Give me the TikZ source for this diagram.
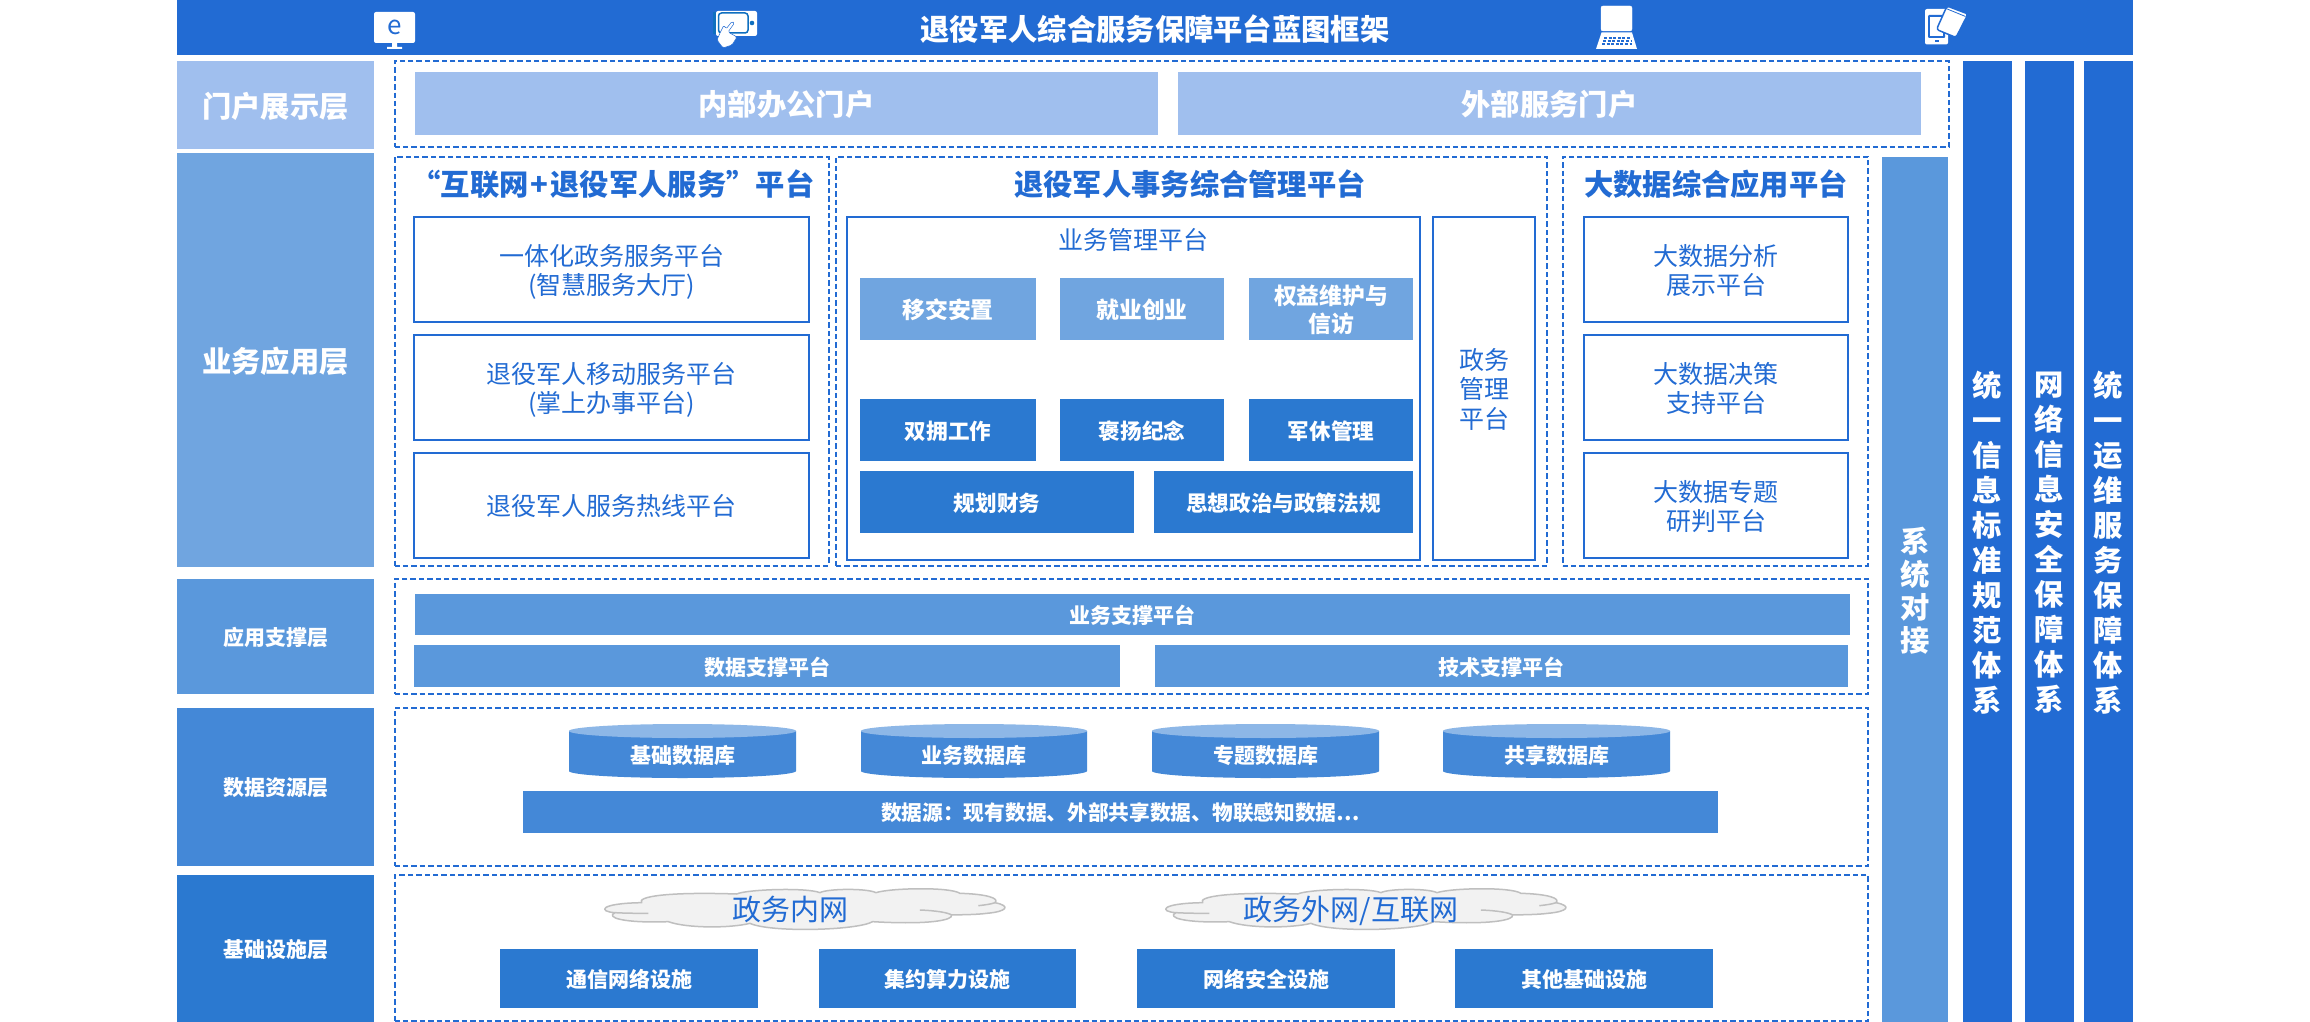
\documentclass[tikz,border=0pt]{standalone}
\usepackage{fontspec}
\setmainfont{Noto Sans CJK SC}
\definecolor{cTop}{HTML}{226BD3}
\definecolor{cPortal}{HTML}{A0BFEE}
\definecolor{cBiz}{HTML}{70A5E0}
\definecolor{cSup}{HTML}{5A98DC}
\definecolor{cData}{HTML}{4488D7}
\definecolor{cInfra}{HTML}{2B79D0}
\definecolor{cCylTop}{HTML}{8DB7E7}
\definecolor{cCloud}{HTML}{F2F2F2}
\definecolor{cCloudLine}{HTML}{BFBFBF}
\definecolor{cScreen}{HTML}{0F6FBF}
\newcommand\bx[7]{%
  \pgfmathsetmacro\bxw{#4-#2}\pgfmathsetmacro\bxh{#5-#3}%
  \pgfmathsetmacro\bxcx{(#4+#2)/2}\pgfmathsetmacro\bxcy{(#5+#3)/2}%
  \node[#6,minimum width=\bxw pt,minimum height=\bxh pt] (#1) at (\bxcx,\bxcy) {#7};}
\newcommand\cloudshape[1]{%
  \begin{scope}[shift={(#1,880)},x=0.3333pt,y=-0.3333pt]
    \draw[cCloudLine,fill=cCloud,line width=1.5pt,line join=round]
      (155,68) .. controls (140,50) and (230,35) .. (440,42)
      .. controls (470,28) and (650,22) .. (690,38)
      .. controls (710,26) and (830,24) .. (858,38)
      .. controls (900,24) and (1080,20) .. (1110,40)
      .. controls (1190,42) and (1230,55) .. (1215,68)
      .. controls (1265,78) and (1250,95) .. (1190,100)
      .. controls (1160,104) and (1120,104) .. (1085,105)
      .. controls (1090,120) and (1020,135) .. (848,125)
      .. controls (800,152) and (540,158) .. (480,130)
      .. controls (420,145) and (290,145) .. (235,125)
      .. controls (100,130) and (45,112) .. (75,98)
      .. controls (25,95) and (25,70) .. (155,68) -- cycle;
    \draw[cCloudLine,line width=1.5pt] (75,98) .. controls (110,100) and (150,100) .. (175,100);
    \draw[cCloudLine,line width=1.5pt] (1165,77) .. controls (1185,75) and (1205,72) .. (1215,68);
    \draw[cCloudLine,line width=1.5pt] (990,90) .. controls (1040,92) and (1075,98) .. (1085,105);
  \end{scope}}
\tikzset{
  base/.style={inner sep=0pt,outer sep=0pt,align=center,text depth=.04em},
  solidw/.style n args={3}{base,fill=#1,text=white,font=\fontsize{#2}{#3}\selectfont\bfseries},
  dashbox/.style={base,draw=cTop,line width=2pt,dash pattern=on 5.4pt off 3pt},
  linebox/.style={base,draw=cTop,line width=1.8pt,fill=white,text=cTop,font=\fontsize{25}{29.5}\selectfont},
  sectitle/.style={base,text=cTop,font=\fontsize{29.3}{34}\selectfont\bfseries},
  plain/.style={base,text=cTop,font=\fontsize{25}{30}\selectfont},
  cloudtext/.style={base,text=cTop,font=\fontsize{29}{32}\selectfont},
  vbar/.style={solidw={cTop}{29.3}{35}},
  cyltext/.style={base,text=white,font=\fontsize{21}{25}\selectfont\bfseries},
}
\begin{document}
\begin{tikzpicture}[x=1pt,y=-1pt]
\useasboundingbox[fill=white] (0,0) rectangle (2310,1022);
% top bar
\bx{topbar}{177}{0}{2133}{55}{solidw={cTop}{29.3}{34}}{退役军人综合服务保障平台蓝图框架}
% icons
\fill[white,rounded corners=2pt] (374,12) rectangle (415,43);
\fill[white] (392,43) rectangle (397,47) (387,47) rectangle (402,49);
\node[base,text=cTop,font=\fontsize{26}{26}\selectfont] (eicon) at (394.5,27) {e};
\fill[cScreen] (713,12) rectangle (716,34);
\fill[white,rounded corners=2pt] (716,11) rectangle (757,36);
\draw[cScreen,line width=1.5pt,rounded corners=3pt] (718.5,13) rectangle (748,33);
\fill[cScreen] (752,23) circle (2.3);
\fill[white,draw=cTop,line width=.5pt,rounded corners=1.5pt] (717,40) -- (723,48) -- (732,45) -- (737,37) -- (728,32) -- (734.5,23) -- (732,21.5) -- (726,29) -- (724,25) -- (720,33) -- cycle;
\fill[white,draw=white,rounded corners=2pt] (1601,6) rectangle (1632,31);
\fill[white] (1601.5,32.5) -- (1632,32.5) -- (1637,49) -- (1596,49) -- cycle;
\draw[cTop,line width=1.4pt,dash pattern=on 3pt off 1.6pt] (1604,38) -- (1630,38) (1603,41) -- (1631,41) (1602,44) -- (1632,44);
\fill[white,rounded corners=2pt] (1925,9) rectangle (1948,44.5);
\fill[cTop,rounded corners=1pt] (1928,15) rectangle (1945,38);
\fill[white] (1930,17) rectangle (1943,36);
\fill[cTop] (1935,40.5) rectangle (1938.5,41.7);
\draw[cTop,fill=white,line width=1.5pt,rounded corners=2.5pt,line join=round] (1947,6) -- (1968,14) -- (1956,37.5) -- (1936.5,29.5) -- cycle;
\draw[cTop,line width=.8pt] (1946,8.5) -- (1965.5,16.5);
% left column
\bx{portal}{177}{61}{374}{149}{solidw={cPortal}{29.3}{34}}{门户展示层}
\bx{biz}{177}{153}{374}{567}{solidw={cBiz}{29.3}{34}}{业务应用层}
\bx{sup}{177}{579}{374}{694}{solidw={cSup}{21}{25}}{应用支撑层}
\bx{data}{177}{708}{374}{866}{solidw={cData}{21}{25}}{数据资源层}
\bx{infra}{177}{875}{374}{1022}{solidw={cInfra}{21}{25}}{基础设施层}
% right columns
\bx{dock}{1882}{157}{1948}{1022}{solidw={cSup}{29.3}{33}}{系\\统\\对\\接}
\bx{stdA}{1963}{61}{2012}{1022}{vbar}{统\\一\\信\\息\\标\\准\\规\\范\\体\\系}
\bx{stdB}{2025}{61}{2074}{1022}{vbar}{网\\络\\信\\息\\安\\全\\保\\障\\体\\系}
\bx{stdC}{2084}{61}{2133}{1022}{vbar}{统\\一\\运\\维\\服\\务\\保\\障\\体\\系}
% portal layer
\bx{portalbox}{394.5}{61}{1948.5}{147}{dashbox}{}
\bx{inner}{415}{72}{1158}{135}{solidw={cPortal}{29.3}{34}}{内部办公门户}
\bx{outer}{1178}{72}{1921}{135}{solidw={cPortal}{29.3}{34}}{外部服务门户}
% business
\bx{biza}{394.5}{157}{828.5}{565.5}{dashbox}{}
\bx{bizb}{836}{157}{1547}{565.5}{dashbox}{}
\bx{bizc}{1562.5}{157}{1868}{565.5}{dashbox}{}
\node[sectitle] (ta) at (613,183) {“互联网\kern2pt+\kern2pt退役军人服务”平台};
\node[sectitle] (tb) at (1190,183) {退役军人事务综合管理平台};
\node[sectitle] (tc) at (1716,183) {大数据综合应用平台};
\bx{a1}{414}{217}{809}{322}{linebox}{一体化政务服务平台\\(智慧服务大厅)}
\bx{a2}{414}{335}{809}{440}{linebox}{退役军人移动服务平台\\(掌上办事平台)}
\bx{a3}{414}{453}{809}{558}{linebox}{退役军人服务热线平台}
\bx{c1}{1584}{217}{1848}{322}{linebox}{大数据分析\\展示平台}
\bx{c2}{1584}{335}{1848}{440}{linebox}{大数据决策\\支持平台}
\bx{c3}{1584}{453}{1848}{558}{linebox}{大数据专题\\研判平台}
\bx{mgmt}{847}{217}{1420}{560}{linebox}{}
\bx{gov}{1433}{217}{1535}{560}{linebox}{政务\\管理\\平台}
\node[plain] (mgmtt) at (1133,239) {业务管理平台};
\bx{m1}{860}{278}{1036}{340}{solidw={cBiz}{22.8}{28}}{移交安置}
\bx{m2}{1060}{278}{1224}{340}{solidw={cBiz}{22.8}{28}}{就业创业}
\bx{m3}{1249}{278}{1413}{340}{solidw={cBiz}{22.8}{28}}{权益维护与\\信访}
\bx{m4}{860}{399}{1036}{461}{solidw={cInfra}{21.6}{26}}{双拥工作}
\bx{m5}{1060}{399}{1224}{461}{solidw={cInfra}{21.6}{26}}{褒扬纪念}
\bx{m6}{1249}{399}{1413}{461}{solidw={cInfra}{21.6}{26}}{军休管理}
\bx{m7}{860}{471}{1134}{533}{solidw={cInfra}{21.6}{26}}{规划财务}
\bx{m8}{1154}{471}{1413}{533}{solidw={cInfra}{21.6}{26}}{思想政治与政策法规}
% support
\bx{supbox}{394.5}{579}{1868}{694}{dashbox}{}
\bx{s1}{415}{594}{1850}{635}{solidw={cSup}{21}{25}}{业务支撑平台}
\bx{s2}{414}{645}{1120}{687}{solidw={cSup}{21}{25}}{数据支撑平台}
\bx{s3}{1155}{645}{1848}{687}{solidw={cSup}{21}{25}}{技术支撑平台}
% data
\bx{databox}{394.5}{708}{1868}{866}{dashbox}{}
\foreach \xa/\xb/\nm/\lab in {569/796/d1/基础数据库,861/1087/d2/业务数据库,1152/1379/d3/专题数据库,1443/1670/d4/共享数据库}{
  \pgfmathsetmacro\xc{(\xa+\xb)/2}
  \pgfmathsetmacro\rx{(\xb-\xa)/2}
  \fill[cData] (\xa,731) -- (\xa,771) arc[start angle=180,end angle=360,x radius=\rx,y radius=-7] -- (\xb,731) -- cycle;
  \fill[cCylTop] (\xc,731) ellipse[x radius=\rx,y radius=7];
  \node[cyltext] (\nm) at (\xc,755) {\lab};
}
\bx{src}{523}{791}{1718}{833}{solidw={cData}{20.7}{25}}{数据源：现有数据、外部共享数据、物联感知数据…}
% infra
\bx{infrabox}{394.5}{875}{1868}{1021}{dashbox}{}
\cloudshape{590}
\cloudshape{1151}
\node[cloudtext] (cl1) at (790,908) {政务内网};
\node[cloudtext] (cl2) at (1351,908) {政务外网/互联网};
\bx{i1}{500}{949}{758}{1008}{solidw={cInfra}{21}{25}}{通信网络设施}
\bx{i2}{819}{949}{1076}{1008}{solidw={cInfra}{21}{25}}{集约算力设施}
\bx{i3}{1137}{949}{1395}{1008}{solidw={cInfra}{21}{25}}{网络安全设施}
\bx{i4}{1455}{949}{1713}{1008}{solidw={cInfra}{21}{25}}{其他基础设施}
\end{tikzpicture}
\end{document}
